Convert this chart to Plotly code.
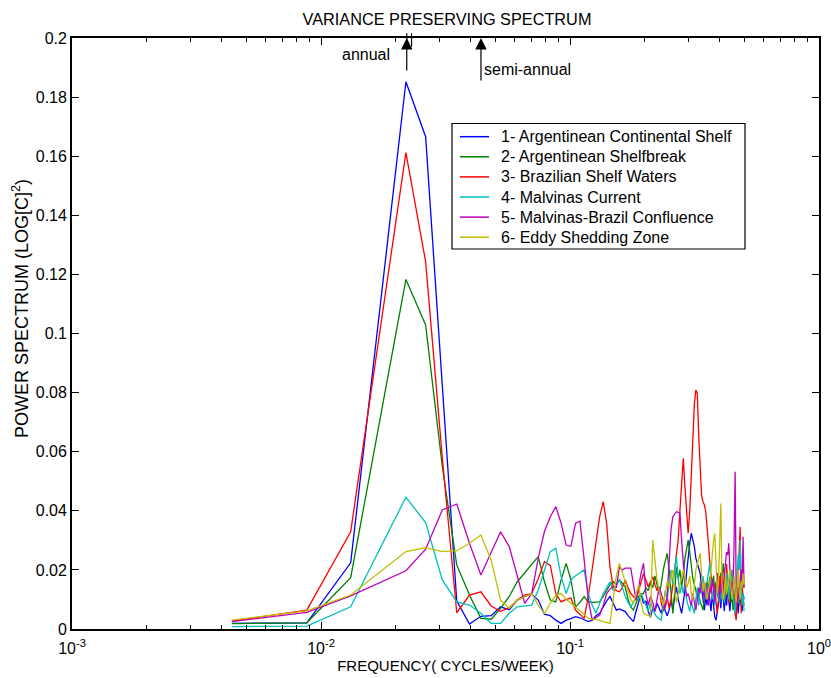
import math
import plotly.graph_objects as go

# Spectral frequency index k (frequency = k / N_WEEKS cycles/week)
N_WEEKS = 228
K = [1, 2, 3] + list(range(5, 115))

blue = [0.0019, 0.0021, 0.0224,
        0.1852, 0.1666, 0.0830, 0.0095, 0.0017, 0.0043, 0.0045, 0.0075, 0.0065, 0.0098,
        0.0110, 0.0118, 0.0098, 0.0050, 0.0045, 0.0030, 0.0019, 0.0030, 0.0035, 0.0042,
        0.0038, 0.0030, 0.0025, 0.0030, 0.0045, 0.0053, 0.0075, 0.0095, 0.0110, 0.0085,
        0.0064, 0.0068, 0.0062, 0.0059, 0.0045, 0.0035, 0.0025, 0.0060, 0.0095, 0.0120,
        0.0087, 0.0095, 0.0060, 0.0040, 0.0070, 0.0060, 0.0087, 0.0070, 0.0053, 0.0080,
        0.0060, 0.0045, 0.0064, 0.0095, 0.0070, 0.0110, 0.0143, 0.0100, 0.0075, 0.0053,
        0.0090, 0.0130, 0.0190, 0.0245, 0.0290, 0.0324, 0.0300, 0.0279, 0.0240, 0.0220,
        0.0200, 0.0188, 0.0140, 0.0090, 0.0064, 0.0110, 0.0080, 0.0140, 0.0100, 0.0060,
        0.0120, 0.0070, 0.0040, 0.0030, 0.0070, 0.0090, 0.0110, 0.0070, 0.0150, 0.0090,
        0.0060, 0.0120, 0.0080, 0.0140, 0.0090, 0.0060, 0.0110, 0.0140, 0.0166, 0.0120,
        0.0080, 0.0140, 0.0090, 0.0053, 0.0100, 0.0150, 0.0090, 0.0060, 0.0120, 0.0100]

green = [0.0018, 0.0021, 0.0174,
         0.1183, 0.1029, 0.0550, 0.0217, 0.0115, 0.0036, 0.0033, 0.0070, 0.0110, 0.0160,
         0.0190, 0.0220, 0.0245, 0.0160, 0.0098, 0.0092, 0.0166, 0.0222, 0.0166, 0.0075,
         0.0090, 0.0110, 0.0092, 0.0090, 0.0092, 0.0092, 0.0110, 0.0130, 0.0150, 0.0160,
         0.0150, 0.0166, 0.0155, 0.0143, 0.0100, 0.0075, 0.0064, 0.0090, 0.0110, 0.0120,
         0.0120, 0.0140, 0.0130, 0.0155, 0.0140, 0.0180, 0.0150, 0.0120, 0.0150, 0.0200,
         0.0230, 0.0256, 0.0200, 0.0110, 0.0053, 0.0120, 0.0210, 0.0170, 0.0200, 0.0143,
         0.0180, 0.0240, 0.0280, 0.0301, 0.0260, 0.0210, 0.0170, 0.0150, 0.0132, 0.0100,
         0.0120, 0.0090, 0.0080, 0.0064, 0.0110, 0.0140, 0.0160, 0.0130, 0.0177, 0.0150,
         0.0143, 0.0180, 0.0120, 0.0160, 0.0130, 0.0100, 0.0140, 0.0190, 0.0170, 0.0222,
         0.0180, 0.0140, 0.0160, 0.0120, 0.0100, 0.0140, 0.0090, 0.0110, 0.0064, 0.0090,
         0.0120, 0.0100, 0.0130, 0.0143, 0.0110, 0.0080, 0.0150, 0.0130, 0.0166, 0.0140]

red = [0.0027, 0.0064, 0.0329,
       0.1612, 0.1243, 0.0580, 0.0055, 0.0115, 0.0126, 0.0078, 0.0060, 0.0072, 0.0098,
       0.0115, 0.0120, 0.0170, 0.0228, 0.0215, 0.0120, 0.0092, 0.0100, 0.0105, 0.0064,
       0.0050, 0.0036, 0.0110, 0.0200, 0.0290, 0.0380, 0.0431, 0.0358, 0.0210, 0.0143,
       0.0130, 0.0126, 0.0140, 0.0166, 0.0140, 0.0120, 0.0110, 0.0098, 0.0130, 0.0160,
       0.0188, 0.0165, 0.0143, 0.0160, 0.0177, 0.0150, 0.0130, 0.0143, 0.0090, 0.0060,
       0.0080, 0.0110, 0.0070, 0.0100, 0.0150, 0.0200, 0.0233, 0.0300, 0.0400, 0.0500,
       0.0578, 0.0480, 0.0380, 0.0324, 0.0400, 0.0520, 0.0650, 0.0760, 0.0809, 0.0798,
       0.0650, 0.0520, 0.0450, 0.0431, 0.0420, 0.0397, 0.0350, 0.0290, 0.0230, 0.0180,
       0.0160, 0.0150, 0.0143, 0.0090, 0.0053, 0.0100, 0.0180, 0.0140, 0.0200, 0.0120,
       0.0160, 0.0100, 0.0220, 0.0150, 0.0090, 0.0170, 0.0120, 0.0200, 0.0140, 0.0080,
       0.0050, 0.0030, 0.0120, 0.0200, 0.0280, 0.0346, 0.0053, 0.0150, 0.0100, 0.0080]

cyan = [0.0008, 0.0010, 0.0075,
        0.0446, 0.0360, 0.0166, 0.0092, 0.0081, 0.0053, 0.0019, 0.0019, 0.0053, 0.0075,
        0.0078, 0.0081, 0.0132, 0.0200, 0.0262, 0.0273, 0.0177, 0.0120, 0.0166, 0.0180,
        0.0190, 0.0200, 0.0120, 0.0080, 0.0053, 0.0090, 0.0120, 0.0140, 0.0160, 0.0130,
        0.0150, 0.0166, 0.0140, 0.0110, 0.0090, 0.0075, 0.0090, 0.0110, 0.0100, 0.0120,
        0.0100, 0.0080, 0.0060, 0.0090, 0.0070, 0.0050, 0.0040, 0.0035, 0.0030, 0.0080,
        0.0130, 0.0100, 0.0160, 0.0200, 0.0150, 0.0190, 0.0245, 0.0170, 0.0120, 0.0150,
        0.0120, 0.0160, 0.0100, 0.0080, 0.0060, 0.0090, 0.0070, 0.0053, 0.0100, 0.0140,
        0.0080, 0.0160, 0.0120, 0.0180, 0.0140, 0.0100, 0.0160, 0.0200, 0.0222, 0.0150,
        0.0100, 0.0140, 0.0080, 0.0120, 0.0170, 0.0110, 0.0090, 0.0130, 0.0100, 0.0120,
        0.0087, 0.0140, 0.0190, 0.0150, 0.0100, 0.0160, 0.0130, 0.0200, 0.0120, 0.0080,
        0.0053, 0.0110, 0.0180, 0.0250, 0.0200, 0.0301, 0.0150, 0.0080, 0.0120, 0.0060]

magenta = [0.0025, 0.0056, 0.0112,
           0.0197, 0.0270, 0.0403, 0.0423, 0.0290, 0.0183, 0.0260, 0.0329, 0.0279, 0.0180,
           0.0087, 0.0120, 0.0240, 0.0330, 0.0380, 0.0414, 0.0358, 0.0284, 0.0280, 0.0358,
           0.0365, 0.0233, 0.0100, 0.0030, 0.0040, 0.0047, 0.0080, 0.0120, 0.0135, 0.0145,
           0.0140, 0.0210, 0.0200, 0.0206, 0.0206, 0.0206, 0.0150, 0.0098, 0.0140, 0.0190,
           0.0222, 0.0120, 0.0080, 0.0110, 0.0090, 0.0060, 0.0100, 0.0140, 0.0120, 0.0090,
           0.0070, 0.0110, 0.0220, 0.0335, 0.0380, 0.0390, 0.0397, 0.0395, 0.0392, 0.0300,
           0.0210, 0.0150, 0.0110, 0.0120, 0.0098, 0.0080, 0.0120, 0.0090, 0.0064, 0.0100,
           0.0140, 0.0120, 0.0166, 0.0130, 0.0100, 0.0155, 0.0110, 0.0080, 0.0150, 0.0120,
           0.0170, 0.0130, 0.0090, 0.0140, 0.0190, 0.0150, 0.0100, 0.0160, 0.0120, 0.0143,
           0.0180, 0.0220, 0.0260, 0.0250, 0.0290, 0.0200, 0.0120, 0.0160, 0.0110, 0.0300,
           0.0532, 0.0120, 0.0080, 0.0140, 0.0100, 0.0170, 0.0200, 0.0150, 0.0312, 0.0140]

yellow = [0.0030, 0.0061, 0.0115,
          0.0262, 0.0275, 0.0262, 0.0265, 0.0290, 0.0318, 0.0233, 0.0098, 0.0070, 0.0098,
          0.0110, 0.0120, 0.0080, 0.0053, 0.0087, 0.0115, 0.0120, 0.0100, 0.0087, 0.0075,
          0.0064, 0.0050, 0.0036, 0.0034, 0.0032, 0.0030, 0.0025, 0.0022, 0.0019, 0.0100,
          0.0180, 0.0222, 0.0190, 0.0166, 0.0130, 0.0100, 0.0087, 0.0120, 0.0150, 0.0090,
          0.0053, 0.0050, 0.0045, 0.0042, 0.0301, 0.0220, 0.0166, 0.0130, 0.0100, 0.0080,
          0.0120, 0.0160, 0.0140, 0.0180, 0.0200, 0.0130, 0.0090, 0.0120, 0.0160, 0.0180,
          0.0200, 0.0170, 0.0140, 0.0155, 0.0180, 0.0120, 0.0100, 0.0150, 0.0200, 0.0220,
          0.0240, 0.0256, 0.0180, 0.0130, 0.0160, 0.0120, 0.0100, 0.0130, 0.0155, 0.0200,
          0.0260, 0.0300, 0.0324, 0.0200, 0.0120, 0.0160, 0.0300, 0.0425, 0.0150, 0.0100,
          0.0130, 0.0180, 0.0120, 0.0150, 0.0166, 0.0200, 0.0140, 0.0100, 0.0130, 0.0180,
          0.0120, 0.0090, 0.0150, 0.0200, 0.0130, 0.0100, 0.0160, 0.0140, 0.0188, 0.0150]

series_names = ["1- Argentinean Continental Shelf", "2- Argentinean Shelfbreak",
                "3- Brazilian Shelf Waters", "4- Malvinas Current",
                "5- Malvinas-Brazil Confluence", "6- Eddy Shedding Zone"]
series_values = [blue, green, red, cyan, magenta, yellow]
series_colors = ["#0000FF", "#008000", "#FF0000", "#00BFBF", "#BF00BF", "#BFBF00"]

x_tick_vals = [0.001, 0.01, 0.1, 1]
x_tick_text = ["10<sup>-3</sup>", "10<sup>-2</sup>", "10<sup>-1</sup>", "10<sup>0</sup>"]
annual_freq = 0.0221
annual_bar_freq = 0.0231
semiannual_freq = 0.0439

freq = [k / N_WEEKS for k in K]
for v in series_values:
    assert len(v) == len(freq)

FONT = "Liberation Sans, Arial, sans-serif"
W, H = 831, 678
L, R, T, B = 72, 12, 38, 49
PW, PH = W - L - R, H - T - B


def px_x(px):
    return (px - L) / PW


def px_y(py):
    return (H - B - py) / PH


fig = go.Figure()
for name, vals, col in zip(series_names, series_values, series_colors):
    fig.add_trace(go.Scatter(x=freq, y=vals, mode="lines", name=name,
                             line=dict(color=col, width=1.3), showlegend=False))

minor_vals = [m * 10 ** e for e in (-3, -2, -1) for m in range(2, 10)]

fig.update_layout(
    width=W, height=H,
    margin=dict(l=L, r=R, t=T, b=B, autoexpand=False),
    paper_bgcolor="white", plot_bgcolor="white",
    font=dict(family=FONT, size=15, color="black"),
    title=dict(text="VARIANCE PRESERVING SPECTRUM", x=447 / W, xanchor="center",
               y=1 - 19 / H, yanchor="middle", yref="container",
               font=dict(size=16.3, family=FONT)),
    showlegend=False,
    xaxis=dict(type="log", range=[-3, 0], tickmode="array", tickvals=x_tick_vals,
               ticktext=x_tick_text, ticks="inside", ticklen=7, tickwidth=1,
               tickcolor="black", showline=True, linecolor="black", linewidth=1.8,
               mirror="ticks", showgrid=False, zeroline=False, automargin=False,
               ticklabelstandoff=4, ticklabeloverflow="allow",
               minor=dict(tickmode="array", tickvals=minor_vals, ticks="inside",
                          ticklen=4, tickcolor="black", showgrid=False),
               title=dict(text="FREQUENCY( CYCLES/WEEK)", font=dict(size=15), standoff=4),
               tickfont=dict(size=16)),
    yaxis=dict(range=[0, 0.2], dtick=0.02, tick0=0, ticks="inside", ticklen=7,
               tickwidth=1, tickcolor="black", showline=True, linecolor="black",
               linewidth=1.8, mirror="ticks", showgrid=False, zeroline=False,
               automargin=False, ticklabeloverflow="allow",
               tickfont=dict(size=16)),
)

ann = []
shapes = []

# y-axis title
ann.append(dict(x=px_x(20), y=px_y(309), xref="paper", yref="paper",
                text="POWER SPECTRUM (LOG[C]<sup>2</sup>)", textangle=-90,
                showarrow=False, xanchor="center", yanchor="middle",
                font=dict(size=18)))

# arrows and markers along top axis
ann.append(dict(x=math.log10(annual_freq), y=1.0, xref="x", yref="paper", text="",
                showarrow=True, ax=0, ay=34, arrowhead=2, arrowsize=1.9,
                arrowwidth=1.2, arrowcolor="black"))
ann.append(dict(x=math.log10(semiannual_freq), y=1.0, xref="x", yref="paper", text="",
                showarrow=True, ax=0, ay=44, arrowhead=2, arrowsize=1.9,
                arrowwidth=1.2, arrowcolor="black"))
for f in (annual_freq, annual_bar_freq):
    ann.append(dict(x=math.log10(f), y=1.008, xref="x", yref="paper", text="",
                    showarrow=True, ax=0, ay=15, arrowhead=0, arrowwidth=1.2,
                    arrowcolor="black"))
ann.append(dict(x=math.log10(annual_freq), y=1 - 16 / PH, xref="x", yref="paper",
                text="annual", showarrow=False, xanchor="right", yanchor="middle",
                xshift=-15, font=dict(size=16)))
ann.append(dict(x=math.log10(semiannual_freq), y=1 - 32 / PH, xref="x", yref="paper",
                text="semi-annual", showarrow=False, xanchor="left", yanchor="middle",
                xshift=1, font=dict(size=16)))

# legend box drawn in the plot
shapes.append(dict(type="rect", xref="paper", yref="paper",
                   x0=px_x(452), x1=px_x(745), y0=px_y(249), y1=px_y(123.5),
                   line=dict(color="black", width=1.2), fillcolor="white", layer="above"))
for i, (name, col) in enumerate(zip(series_names, series_colors)):
    cy = 136.7 + i * 20.1
    shapes.append(dict(type="line", xref="paper", yref="paper",
                       x0=px_x(460), x1=px_x(489), y0=px_y(cy), y1=px_y(cy),
                       line=dict(color=col, width=1.5), layer="above"))
    ann.append(dict(x=px_x(499), y=px_y(cy), xref="paper", yref="paper", text=name,
                    showarrow=False, xanchor="left", yanchor="middle",
                    font=dict(size=16)))

fig.update_layout(annotations=ann, shapes=shapes)

fig.write_html("out.html")
